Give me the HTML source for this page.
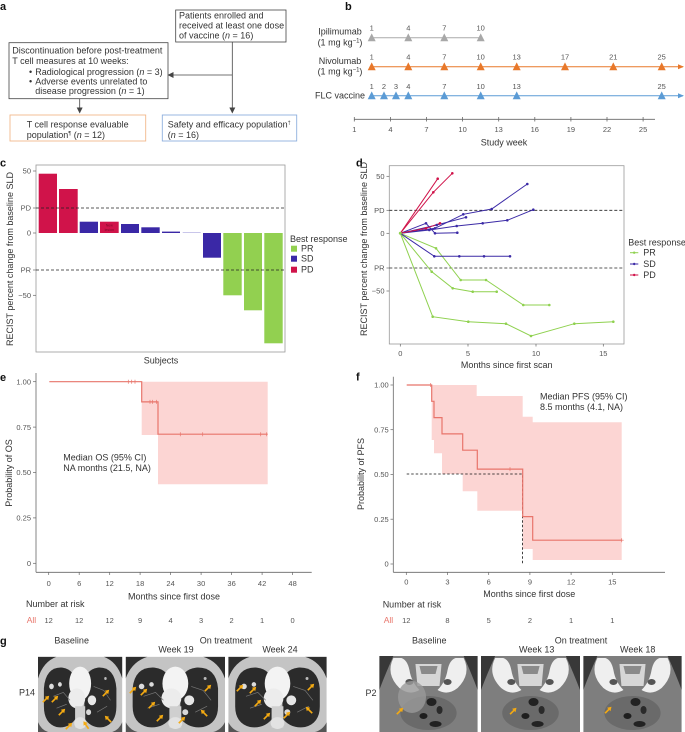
<!DOCTYPE html>
<html><head><meta charset="utf-8"><style>
html,body{margin:0;padding:0;background:#fff;}
svg{display:block;}
text{font-family:"Liberation Sans",sans-serif;fill:#333;}
.t{font-size:9px;}
.k{font-size:7.5px;fill:#555;}
.b{font-size:11px;font-weight:bold;fill:#111;}
</style></head><body>
<svg width="685" height="732" viewBox="0 0 685 732" xmlns="http://www.w3.org/2000/svg">
<defs>
<marker id="ah" markerWidth="6" markerHeight="6" refX="5" refY="3" orient="auto" markerUnits="userSpaceOnUse"><path d="M0,0 L6,3 L0,6 Z" fill="#444"/></marker>
<marker id="aho" markerWidth="6" markerHeight="6" refX="5" refY="3" orient="auto" markerUnits="userSpaceOnUse"><path d="M0,0.5 L6,3 L0,5.5 Z" fill="#e8782a"/></marker>
<marker id="ahb" markerWidth="6" markerHeight="6" refX="5" refY="3" orient="auto" markerUnits="userSpaceOnUse"><path d="M0,0.5 L6,3 L0,5.5 Z" fill="#5b9bd5"/></marker>
<g id="arr"><path d="M-3.2,3.2 L0.8,-0.8" stroke="#f4aa12" stroke-width="1.7"/><path d="M3.2,-3.2 L-1.2,-2.2 L2.2,1.2 Z" fill="#f4aa12"/></g>
<symbol id="chest" viewBox="0 0 100 76" preserveAspectRatio="none">
<rect width="100" height="76" fill="#c4c4c4"/>
<path d="M0,0 H22 Q6,5 0,22 Z" fill="#2e2e2e"/><path d="M100,0 H78 Q94,5 100,22 Z" fill="#2e2e2e"/>
<path d="M0,76 V66 Q4,74 12,76 Z" fill="#555"/><path d="M100,76 V66 Q96,74 88,76 Z" fill="#555"/>
<path d="M7,32 Q9,10 29,11 Q45,13 45,30 L45,62 Q37,73 22,71 Q7,67 7,50 Z" fill="#2b2b2b"/>
<path d="M93,32 Q91,10 71,11 Q55,13 55,30 L55,62 Q63,73 78,71 Q93,67 93,50 Z" fill="#2b2b2b"/>
<ellipse cx="50" cy="27" rx="13" ry="17" fill="#f3f3f3"/>
<ellipse cx="46" cy="42" rx="10" ry="10" fill="#ececec"/>
<rect x="44" y="50" width="12" height="22" fill="#cfcfcf"/>
<ellipse cx="50" cy="67" rx="7" ry="6" fill="#e2e2e2"/>
<circle cx="16" cy="30" r="2.8" fill="#dcdcdc"/><circle cx="26" cy="28" r="2.3" fill="#dcdcdc"/>
<circle cx="64" cy="44" r="5" fill="#e6e6e6"/><circle cx="60" cy="56" r="3" fill="#d8d8d8"/>
<circle cx="80" cy="22" r="1.5" fill="#bbb"/>
<path d="M18,40 L30,36 L38,44 M22,52 L34,48 M66,30 L78,34 L86,44 M70,56 L82,50" stroke="#777" stroke-width="0.7" fill="none"/>
</symbol>
<symbol id="pelv" viewBox="0 0 98 76" preserveAspectRatio="none">
<rect width="98" height="76" fill="#7e7e7e"/>
<path d="M0,0 H14 Q6,18 0,34 Z" fill="#383838"/><path d="M98,0 H84 Q92,18 98,34 Z" fill="#383838"/>
<path d="M14,2 Q6,18 20,32 Q30,40 40,34 Q32,26 30,14 Q28,4 22,2 Z" fill="#efefef"/>
<path d="M84,2 Q92,18 78,32 Q68,40 58,34 Q66,26 68,14 Q70,4 76,2 Z" fill="#efefef"/>
<path d="M36,8 H62 L60,30 H38 Z" fill="#d6d6d6"/>
<path d="M40,10 H58 L56,18 H42 Z" fill="#8a8a8a"/>
<ellipse cx="30" cy="26" rx="4" ry="3" fill="#555"/><ellipse cx="68" cy="26" rx="4" ry="3" fill="#555"/>
<ellipse cx="49" cy="57" rx="28" ry="17" fill="#6a6a6a"/>
<ellipse cx="52" cy="46" rx="5" ry="4" fill="#222"/><ellipse cx="44" cy="60" rx="4" ry="3" fill="#1e1e1e"/>
<ellipse cx="56" cy="68" rx="6" ry="3" fill="#222"/><ellipse cx="60" cy="54" rx="3" ry="4" fill="#2a2a2a"/>
</symbol>
</defs>

<!-- ===== Panel a ===== -->
<text class="b" x="0" y="10">a</text>
<rect x="175.7" y="10" width="110.3" height="32" fill="none" stroke="#444" stroke-width="0.8"/>
<text class="t" x="179" y="18.5">Patients enrolled and</text>
<text class="t" x="179" y="28.7">received at least one dose</text>
<text class="t" x="179" y="38.7">of vaccine (<tspan font-style="italic">n</tspan> = 16)</text>
<rect x="9" y="42.7" width="159" height="56" fill="none" stroke="#444" stroke-width="0.8"/>
<text class="t" x="12.3" y="53.3">Discontinuation before post-treatment</text>
<text class="t" x="12.3" y="64">T cell measures at 10 weeks:</text>
<text class="t" x="29" y="74.8">•</text><text class="t" x="35.3" y="74.8">Radiological progression (<tspan font-style="italic">n</tspan> = 3)</text>
<text class="t" x="29" y="84.3">•</text><text class="t" x="35.3" y="84.3">Adverse events unrelated to</text>
<text class="t" x="35.3" y="94">disease progression (<tspan font-style="italic">n</tspan> = 1)</text>
<line x1="232.3" y1="42" x2="232.3" y2="112.5" stroke="#444" stroke-width="0.8" marker-end="url(#ah)"/>
<line x1="232.3" y1="75" x2="168.5" y2="75" stroke="#444" stroke-width="0.8" marker-end="url(#ah)"/>
<line x1="79.7" y1="98.7" x2="79.7" y2="112.5" stroke="#444" stroke-width="0.8" marker-end="url(#ah)"/>
<rect x="10" y="115" width="135.7" height="26" fill="none" stroke="#f2b98c" stroke-width="0.9"/>
<text class="t" x="26.7" y="127.3">T cell response evaluable</text>
<text class="t" x="26.7" y="138">population<tspan font-size="5.5" dy="-3">¶</tspan><tspan dy="3"> (</tspan><tspan font-style="italic">n</tspan> = 12)</text>
<rect x="162.3" y="115" width="134.4" height="26" fill="none" stroke="#8fb0dd" stroke-width="0.9"/>
<text class="t" x="167.7" y="127.3">Safety and efficacy population<tspan font-size="5.5" dy="-3">†</tspan></text>
<text class="t" x="167.7" y="138">(<tspan font-style="italic">n</tspan> = 16)</text>

<!-- ===== Panel b ===== -->
<text class="b" x="345" y="10">b</text>
<text class="t" x="340" y="34.7" text-anchor="middle">Ipilimumab</text>
<text class="t" x="340" y="45.7" text-anchor="middle">(1 mg kg<tspan font-size="6" dy="-3">−1</tspan><tspan dy="3">)</tspan></text>
<text class="t" x="340" y="64" text-anchor="middle">Nivolumab</text>
<text class="t" x="340" y="74.7" text-anchor="middle">(1 mg kg<tspan font-size="6" dy="-3">−1</tspan><tspan dy="3">)</tspan></text>
<text class="t" x="340" y="98.7" text-anchor="middle">FLC vaccine</text>

<line x1="371.7" y1="37.7" x2="480.7" y2="37.7" stroke="#aaa" stroke-width="1"/>
<g fill="#a8a8a8">
<path d="M367.7,41.2 L375.7,41.2 L371.7,33.4 Z"/><path d="M404.3,41.2 L412.3,41.2 L408.3,33.4 Z"/>
<path d="M440.3,41.2 L448.3,41.2 L444.3,33.4 Z"/><path d="M476.7,41.2 L484.7,41.2 L480.7,33.4 Z"/>
</g>
<text x="371.7" y="30.5" class="k" text-anchor="middle">1</text><text x="408.3" y="30.5" class="k" text-anchor="middle">4</text>
<text x="444.3" y="30.5" class="k" text-anchor="middle">7</text><text x="480.7" y="30.5" class="k" text-anchor="middle">10</text>
<line x1="371.7" y1="66.7" x2="683" y2="66.7" stroke="#e8782a" stroke-width="1" marker-end="url(#aho)"/>
<g fill="#e8782a">
<path d="M367.7,70.2 L375.7,70.2 L371.7,62.4 Z"/><path d="M404.3,70.2 L412.3,70.2 L408.3,62.4 Z"/>
<path d="M440.3,70.2 L448.3,70.2 L444.3,62.4 Z"/><path d="M476.7,70.2 L484.7,70.2 L480.7,62.4 Z"/>
<path d="M512.7,70.2 L520.7,70.2 L516.7,62.4 Z"/><path d="M561,70.2 L569,70.2 L565,62.4 Z"/>
<path d="M609.3,70.2 L617.3,70.2 L613.3,62.4 Z"/><path d="M657.7,70.2 L665.7,70.2 L661.7,62.4 Z"/>
</g>
<text x="371.7" y="59.5" class="k" text-anchor="middle">1</text><text x="408.3" y="59.5" class="k" text-anchor="middle">4</text>
<text x="444.3" y="59.5" class="k" text-anchor="middle">7</text><text x="480.7" y="59.5" class="k" text-anchor="middle">10</text>
<text x="516.7" y="59.5" class="k" text-anchor="middle">13</text><text x="565" y="59.5" class="k" text-anchor="middle">17</text>
<text x="613.3" y="59.5" class="k" text-anchor="middle">21</text><text x="661.7" y="59.5" class="k" text-anchor="middle">25</text>
<line x1="371.7" y1="95.7" x2="683" y2="95.7" stroke="#5b9bd5" stroke-width="1" marker-end="url(#ahb)"/>
<g fill="#5b9bd5">
<path d="M367.7,99.2 L375.7,99.2 L371.7,91.4 Z"/><path d="M380,99.2 L388,99.2 L384,91.4 Z"/>
<path d="M392,99.2 L400,99.2 L396,91.4 Z"/><path d="M404.3,99.2 L412.3,99.2 L408.3,91.4 Z"/>
<path d="M440.3,99.2 L448.3,99.2 L444.3,91.4 Z"/><path d="M476.7,99.2 L484.7,99.2 L480.7,91.4 Z"/>
<path d="M512.7,99.2 L520.7,99.2 L516.7,91.4 Z"/><path d="M657.7,99.2 L665.7,99.2 L661.7,91.4 Z"/>
</g>
<text x="371.7" y="88.8" class="k" text-anchor="middle">1</text><text x="384" y="88.8" class="k" text-anchor="middle">2</text>
<text x="396" y="88.8" class="k" text-anchor="middle">3</text><text x="408.3" y="88.8" class="k" text-anchor="middle">4</text>
<text x="444.3" y="88.8" class="k" text-anchor="middle">7</text><text x="480.7" y="88.8" class="k" text-anchor="middle">10</text>
<text x="516.7" y="88.8" class="k" text-anchor="middle">13</text><text x="661.7" y="88.8" class="k" text-anchor="middle">25</text>
<line x1="354.3" y1="119.3" x2="655" y2="119.3" stroke="#666" stroke-width="0.8"/>
<g stroke="#666" stroke-width="0.8">
<line x1="354.3" y1="117" x2="354.3" y2="121.5"/><line x1="390.4" y1="117" x2="390.4" y2="121.5"/>
<line x1="426.5" y1="117" x2="426.5" y2="121.5"/><line x1="462.6" y1="117" x2="462.6" y2="121.5"/>
<line x1="498.7" y1="117" x2="498.7" y2="121.5"/><line x1="534.8" y1="117" x2="534.8" y2="121.5"/>
<line x1="570.9" y1="117" x2="570.9" y2="121.5"/><line x1="607" y1="117" x2="607" y2="121.5"/>
<line x1="643.1" y1="117" x2="643.1" y2="121.5"/>
</g>
<text x="354.3" y="132" class="k" text-anchor="middle">1</text><text x="390.4" y="132" class="k" text-anchor="middle">4</text>
<text x="426.5" y="132" class="k" text-anchor="middle">7</text><text x="462.6" y="132" class="k" text-anchor="middle">10</text>
<text x="498.7" y="132" class="k" text-anchor="middle">13</text><text x="534.8" y="132" class="k" text-anchor="middle">16</text>
<text x="570.9" y="132" class="k" text-anchor="middle">19</text><text x="607" y="132" class="k" text-anchor="middle">22</text>
<text x="643.1" y="132" class="k" text-anchor="middle">25</text>
<text class="t" x="504" y="145.5" text-anchor="middle">Study week</text>

<!-- ===== Panel c ===== -->
<text class="b" x="0" y="166.5">c</text>
<text class="t" transform="translate(13,259) rotate(-90)" text-anchor="middle" font-size="8.7">RECIST percent change from baseline SLD</text>
<g fill="#d0134a">
<rect x="38.7" y="173.7" width="18.3" height="59.3"/>
<rect x="59" y="189" width="18.7" height="44"/>
<rect x="100" y="221.7" width="18.7" height="11.3"/>
</g>
<g fill="#3a28a6">
<rect x="79.7" y="221.7" width="18.3" height="11.3"/>
<rect x="121" y="224" width="18" height="9"/>
<rect x="141.3" y="227.3" width="18.4" height="5.7"/>
<rect x="162" y="231.6" width="18" height="1.4"/>
<rect x="203" y="233" width="18" height="24.7"/>
</g>
<rect x="182.7" y="232" width="18" height="1" fill="#c9c6ea"/>
<g fill="#92d050">
<rect x="223.3" y="233" width="18.4" height="62.3"/>
<rect x="244" y="233" width="18" height="77.3"/>
<rect x="264.3" y="233" width="18.4" height="110.3"/>
</g>
<text x="109.3" y="226.5" font-size="3.6" text-anchor="middle" style="fill:#7a0a2a">New</text>
<text x="109.3" y="231" font-size="3.6" text-anchor="middle" style="fill:#7a0a2a">lesion</text>
<rect x="36" y="165" width="249" height="187" fill="none" stroke="#999" stroke-width="0.8"/>
<line x1="36" y1="208" x2="285" y2="208" stroke="#222" stroke-width="0.8" stroke-dasharray="3,2"/>
<line x1="36" y1="270" x2="285" y2="270" stroke="#222" stroke-width="0.8" stroke-dasharray="3,2"/>
<g stroke="#666" stroke-width="0.7">
<line x1="33" y1="171" x2="36" y2="171"/><line x1="33" y1="208" x2="36" y2="208"/><line x1="33" y1="233" x2="36" y2="233"/>
<line x1="33" y1="270" x2="36" y2="270"/><line x1="33" y1="295.3" x2="36" y2="295.3"/>
</g>
<text class="k" x="31" y="173.7" text-anchor="end">50</text>
<text class="k" x="31" y="210.7" text-anchor="end">PD</text>
<text class="k" x="31" y="235.7" text-anchor="end">0</text>
<text class="k" x="31" y="272.7" text-anchor="end">PR</text>
<text class="k" x="31" y="298" text-anchor="end">−50</text>
<text class="t" x="161" y="363.5" text-anchor="middle">Subjects</text>
<text class="t" x="290" y="242">Best response</text>
<rect x="291" y="245.7" width="6" height="6" fill="#92d050"/>
<rect x="291" y="255.7" width="6" height="6" fill="#3a28a6"/>
<rect x="291" y="266.7" width="6" height="6" fill="#d0134a"/>
<text class="t" x="301" y="251.7" font-size="8.5">PR</text>
<text class="t" x="301" y="261.7" font-size="8.5">SD</text>
<text class="t" x="301" y="272.7" font-size="8.5">PD</text>

<!-- ===== Panel d ===== -->
<text class="b" x="356" y="166.5">d</text>
<text class="t" transform="translate(367,249) rotate(-90)" text-anchor="middle" font-size="9.2">RECIST percent change from baseline SLD</text>
<rect x="389.3" y="165.7" width="234.7" height="178.3" fill="none" stroke="#999" stroke-width="0.8"/>
<line x1="389.3" y1="210.3" x2="624" y2="210.3" stroke="#222" stroke-width="0.8" stroke-dasharray="3,2"/>
<line x1="389.3" y1="268" x2="624" y2="268" stroke="#222" stroke-width="0.8" stroke-dasharray="3,2"/>
<g stroke="#666" stroke-width="0.7">
<line x1="386.5" y1="176.3" x2="389.3" y2="176.3"/><line x1="386.5" y1="210.3" x2="389.3" y2="210.3"/>
<line x1="386.5" y1="233.3" x2="389.3" y2="233.3"/><line x1="386.5" y1="268" x2="389.3" y2="268"/>
<line x1="386.5" y1="291" x2="389.3" y2="291"/>
<line x1="400.3" y1="344" x2="400.3" y2="346.5"/><line x1="468" y1="344" x2="468" y2="346.5"/>
<line x1="536" y1="344" x2="536" y2="346.5"/><line x1="603.3" y1="344" x2="603.3" y2="346.5"/>
</g>
<text class="k" x="384.5" y="179" text-anchor="end">50</text>
<text class="k" x="384.5" y="213" text-anchor="end">PD</text>
<text class="k" x="384.5" y="236" text-anchor="end">0</text>
<text class="k" x="384.5" y="270.7" text-anchor="end">PR</text>
<text class="k" x="384.5" y="293.7" text-anchor="end">−50</text>
<text class="k" x="400.3" y="356" text-anchor="middle">0</text>
<text class="k" x="468" y="356" text-anchor="middle">5</text>
<text class="k" x="536" y="356" text-anchor="middle">10</text>
<text class="k" x="603.3" y="356" text-anchor="middle">15</text>
<text class="t" x="506.7" y="368" text-anchor="middle">Months since first scan</text>
<g fill="none" stroke-width="1">
<g stroke="#8fd14f">
<polyline points="400.3,233.3 436,248.3 460.7,280 486,280 523.3,305 549.3,305"/>
<polyline points="400.3,233.3 431.7,271.7 452.7,288.3 472.7,291.7 496.7,291.7"/>
<polyline points="400.3,233.3 432.7,316.7 468.3,321.7 506,323.7 531,336 574.3,323.7 613.3,321.7"/>
</g>
<g stroke="#3b2aa6">
<polyline points="400.3,233.3 434.3,256.3 459.3,256.3 484,256.3 510,256.3"/>
<polyline points="400.3,233.3 435,228.3 463.3,214.3 491.7,209 527.3,184"/>
<polyline points="400.3,233.3 429.3,230 456.7,226 482.7,223.3 507.3,220.3 533.3,209.7"/>
<polyline points="400.3,233.3 426,223.3 435,233.3 457.3,232.7"/>
<polyline points="400.3,233.3 436.7,225 466,217.3"/>
</g>
<g stroke="#d0134a">
<polyline points="400.3,233.3 437.7,178.7"/>
<polyline points="400.3,233.3 433.3,192.3 452.3,173.3"/>
<polyline points="400.3,233.3 426,228.3 440,223.3"/>
</g>
</g>
<g fill="#8fd14f">
<circle cx="400.3" cy="233.3" r="1.5"/>
<circle cx="436" cy="248.3" r="1.3"/><circle cx="460.7" cy="280" r="1.3"/><circle cx="486" cy="280" r="1.3"/><circle cx="523.3" cy="305" r="1.3"/><circle cx="549.3" cy="305" r="1.3"/>
<circle cx="431.7" cy="271.7" r="1.3"/><circle cx="452.7" cy="288.3" r="1.3"/><circle cx="472.7" cy="291.7" r="1.3"/><circle cx="496.7" cy="291.7" r="1.3"/>
<circle cx="432.7" cy="316.7" r="1.3"/><circle cx="468.3" cy="321.7" r="1.3"/><circle cx="506" cy="323.7" r="1.3"/><circle cx="531" cy="336" r="1.3"/><circle cx="574.3" cy="323.7" r="1.3"/><circle cx="613.3" cy="321.7" r="1.3"/>
</g>
<g fill="#3b2aa6">
<circle cx="434.3" cy="256.3" r="1.3"/><circle cx="459.3" cy="256.3" r="1.3"/><circle cx="484" cy="256.3" r="1.3"/><circle cx="510" cy="256.3" r="1.3"/>
<circle cx="435" cy="228.3" r="1.3"/><circle cx="463.3" cy="214.3" r="1.3"/><circle cx="491.7" cy="209" r="1.3"/><circle cx="527.3" cy="184" r="1.3"/>
<circle cx="429.3" cy="230" r="1.3"/><circle cx="456.7" cy="226" r="1.3"/><circle cx="482.7" cy="223.3" r="1.3"/><circle cx="507.3" cy="220.3" r="1.3"/><circle cx="533.3" cy="209.7" r="1.3"/>
<circle cx="426" cy="223.3" r="1.3"/><circle cx="435" cy="233.3" r="1.3"/><circle cx="457.3" cy="232.7" r="1.3"/>
<circle cx="436.7" cy="225" r="1.3"/><circle cx="466" cy="217.3" r="1.3"/>
</g>
<g fill="#d0134a">
<circle cx="437.7" cy="178.7" r="1.3"/><circle cx="433.3" cy="192.3" r="1.3"/><circle cx="452.3" cy="173.3" r="1.3"/>
<circle cx="426" cy="228.3" r="1.3"/><circle cx="440" cy="223.3" r="1.3"/>
</g>
<text class="t" x="628.3" y="245.5">Best response</text>
<line x1="630" y1="252.7" x2="638.3" y2="252.7" stroke="#8fd14f" stroke-width="1"/><circle cx="634.2" cy="252.7" r="1.2" fill="#8fd14f"/>
<line x1="630" y1="264" x2="638.3" y2="264" stroke="#3b2aa6" stroke-width="1"/><circle cx="634.2" cy="264" r="1.2" fill="#3b2aa6"/>
<line x1="630" y1="275" x2="638.3" y2="275" stroke="#d0134a" stroke-width="1"/><circle cx="634.2" cy="275" r="1.2" fill="#d0134a"/>
<text class="t" x="643.3" y="255.7" font-size="8.5">PR</text>
<text class="t" x="643.3" y="267" font-size="8.5">SD</text>
<text class="t" x="643.3" y="278" font-size="8.5">PD</text>

<!-- ===== Panel e ===== -->
<text class="b" x="0" y="381">e</text>
<text class="t" transform="translate(12,473) rotate(-90)" text-anchor="middle" font-size="8.7">Probability of OS</text>
<path d="M141.7,381.7 H158 V435 H141.7 Z" fill="#fcd5d3"/>
<path d="M158,381.7 H267.7 V484.3 H158 Z" fill="#fcd5d3"/>
<path d="M49.3,381.7 H141.7 V401.9 H158 V434.2 H267.7" fill="none" stroke="#e8756b" stroke-width="1.2"/>
<g stroke="#e8756b" stroke-width="0.7">
<path d="M128.3,379.7 V383.7 M131.7,379.7 V383.7 M135,379.7 V383.7 M150,399.9 V403.9 M152.5,399.9 V403.9 M156.5,399.9 V403.9 M180.3,432.2 V436.2 M202.7,432.2 V436.2 M260.7,432.2 V436.2 M266.7,432.2 V436.2"/>
</g>
<line x1="36" y1="373" x2="36" y2="572.3" stroke="#666" stroke-width="0.8"/>
<line x1="36" y1="572.3" x2="311.7" y2="572.3" stroke="#666" stroke-width="0.8"/>
<g stroke="#666" stroke-width="0.7">
<line x1="33" y1="381.7" x2="36" y2="381.7"/><line x1="33" y1="427.1" x2="36" y2="427.1"/><line x1="33" y1="472.5" x2="36" y2="472.5"/>
<line x1="33" y1="517.9" x2="36" y2="517.9"/><line x1="33" y1="563.3" x2="36" y2="563.3"/>
<line x1="48.7" y1="572.3" x2="48.7" y2="575"/><line x1="79.2" y1="572.3" x2="79.2" y2="575"/><line x1="109.7" y1="572.3" x2="109.7" y2="575"/>
<line x1="140.1" y1="572.3" x2="140.1" y2="575"/><line x1="170.6" y1="572.3" x2="170.6" y2="575"/><line x1="201.1" y1="572.3" x2="201.1" y2="575"/>
<line x1="231.6" y1="572.3" x2="231.6" y2="575"/><line x1="262.1" y1="572.3" x2="262.1" y2="575"/><line x1="292.6" y1="572.3" x2="292.6" y2="575"/>
</g>
<text class="k" x="31" y="384.4" text-anchor="end">1.00</text>
<text class="k" x="31" y="429.8" text-anchor="end">0.75</text>
<text class="k" x="31" y="475.2" text-anchor="end">0.50</text>
<text class="k" x="31" y="520.6" text-anchor="end">0.25</text>
<text class="k" x="31" y="566" text-anchor="end">0</text>
<text class="k" x="48.7" y="586" text-anchor="middle">0</text><text class="k" x="79.2" y="586" text-anchor="middle">6</text>
<text class="k" x="109.7" y="586" text-anchor="middle">12</text><text class="k" x="140.1" y="586" text-anchor="middle">18</text>
<text class="k" x="170.6" y="586" text-anchor="middle">24</text><text class="k" x="201.1" y="586" text-anchor="middle">30</text>
<text class="k" x="231.6" y="586" text-anchor="middle">36</text><text class="k" x="262.1" y="586" text-anchor="middle">42</text>
<text class="k" x="292.6" y="586" text-anchor="middle">48</text>
<text class="t" x="174" y="599.7" text-anchor="middle">Months since first dose</text>
<text class="t" x="63.3" y="460.7">Median OS (95% CI)</text>
<text class="t" x="63.3" y="471">NA months (21.5, NA)</text>
<text class="t" x="26" y="607.2">Number at risk</text>
<text x="26.7" y="623" font-size="8.5" style="fill:#e8756b">All</text>
<text class="k" x="48.7" y="623" text-anchor="middle">12</text><text class="k" x="79.2" y="623" text-anchor="middle">12</text>
<text class="k" x="109.7" y="623" text-anchor="middle">12</text><text class="k" x="140.1" y="623" text-anchor="middle">9</text>
<text class="k" x="170.6" y="623" text-anchor="middle">4</text><text class="k" x="201.1" y="623" text-anchor="middle">3</text>
<text class="k" x="231.6" y="623" text-anchor="middle">2</text><text class="k" x="262.1" y="623" text-anchor="middle">1</text>
<text class="k" x="292.6" y="623" text-anchor="middle">0</text>

<!-- ===== Panel f ===== -->
<text class="b" x="356" y="380.5">f</text>
<text class="t" transform="translate(364,474) rotate(-90)" text-anchor="middle" font-size="8.7">Probability of PFS</text>
<path d="M431.7,385 H476.7 V396 H522.7 V416.7 H532.7 V422.3 H621.7 V560 H532.7 V549 H522.7 V510.7 H477.3 V491.3 H462.7 V474 H442 V453.3 H434 V440 H431.7 Z" fill="#fcd5d3"/>
<path d="M406.7,474 H522.5 V564" fill="none" stroke="#111" stroke-width="0.8" stroke-dasharray="2.5,2"/>
<path d="M406.7,385 H431.7 V401.3 H434 V417.6 H442 V433.9 H462.7 V450.2 H477.3 V469.1 H522.7 V516.6 H532.7 V540.2 H621.7" fill="none" stroke="#e8756b" stroke-width="1.2"/>
<path d="M430.7,383 V387 M510,467.1 V471.1 M621.7,538.2 V542.2 M619.7,540.2 H623.7" stroke="#e8756b" stroke-width="0.7"/>
<line x1="393.3" y1="376.7" x2="393.3" y2="572.3" stroke="#666" stroke-width="0.8"/>
<line x1="393.3" y1="572.3" x2="665" y2="572.3" stroke="#666" stroke-width="0.8"/>
<g stroke="#666" stroke-width="0.7">
<line x1="390.5" y1="385" x2="393.3" y2="385"/><line x1="390.5" y1="429.7" x2="393.3" y2="429.7"/><line x1="390.5" y1="474.5" x2="393.3" y2="474.5"/>
<line x1="390.5" y1="519.2" x2="393.3" y2="519.2"/><line x1="390.5" y1="564" x2="393.3" y2="564"/>
<line x1="406.3" y1="572.3" x2="406.3" y2="575"/><line x1="447.5" y1="572.3" x2="447.5" y2="575"/><line x1="488.7" y1="572.3" x2="488.7" y2="575"/>
<line x1="529.9" y1="572.3" x2="529.9" y2="575"/><line x1="571.1" y1="572.3" x2="571.1" y2="575"/><line x1="612.3" y1="572.3" x2="612.3" y2="575"/>
</g>
<text class="k" x="388.7" y="387.7" text-anchor="end">1.00</text>
<text class="k" x="388.7" y="432.4" text-anchor="end">0.75</text>
<text class="k" x="388.7" y="477.2" text-anchor="end">0.50</text>
<text class="k" x="388.7" y="521.9" text-anchor="end">0.25</text>
<text class="k" x="388.7" y="566.7" text-anchor="end">0</text>
<text class="k" x="406.3" y="584.5" text-anchor="middle">0</text><text class="k" x="447.5" y="584.5" text-anchor="middle">3</text>
<text class="k" x="488.7" y="584.5" text-anchor="middle">6</text><text class="k" x="529.9" y="584.5" text-anchor="middle">9</text>
<text class="k" x="571.1" y="584.5" text-anchor="middle">12</text><text class="k" x="612.3" y="584.5" text-anchor="middle">15</text>
<text class="t" x="529.3" y="597.2" text-anchor="middle">Months since first dose</text>
<text class="t" x="540" y="399.7">Median PFS (95% CI)</text>
<text class="t" x="540" y="410.2">8.5 months (4.1, NA)</text>
<text class="t" x="382.7" y="607.5">Number at risk</text>
<text x="383.7" y="623" font-size="8.5" style="fill:#e8756b">All</text>
<text class="k" x="406.3" y="623" text-anchor="middle">12</text><text class="k" x="447.5" y="623" text-anchor="middle">8</text>
<text class="k" x="488.7" y="623" text-anchor="middle">5</text><text class="k" x="529.9" y="623" text-anchor="middle">2</text>
<text class="k" x="571.1" y="623" text-anchor="middle">1</text><text class="k" x="612.3" y="623" text-anchor="middle">1</text>

<!-- ===== Panel g ===== -->
<text class="b" x="0" y="644.5">g</text>
<text class="t" x="71.7" y="643.7" text-anchor="middle">Baseline</text>
<text class="t" x="226" y="643.7" text-anchor="middle">On treatment</text>
<text class="t" x="176" y="652.5" text-anchor="middle">Week 19</text>
<text class="t" x="280" y="652.5" text-anchor="middle">Week 24</text>
<text class="t" x="19" y="695.7">P14</text>
<use href="#chest" x="38" y="656.7" width="84.3" height="75.3"/>
<use href="#chest" x="125.7" y="656.7" width="99.3" height="75.3"/>
<use href="#chest" x="228.3" y="656.7" width="98.4" height="75.3"/>
<use href="#arr" transform="translate(46,699)"/><use href="#arr" transform="translate(55,699)"/>
<use href="#arr" transform="translate(62,712)"/><use href="#arr" transform="translate(69,726)"/>
<use href="#arr" transform="translate(86,725) rotate(-80)"/><use href="#arr" transform="translate(106,693)"/>
<use href="#arr" transform="translate(108,719) rotate(-90)"/>
<use href="#arr" transform="translate(133,690)"/><use href="#arr" transform="translate(144,692)"/>
<use href="#arr" transform="translate(152,705)"/><use href="#arr" transform="translate(160,718)"/>
<use href="#arr" transform="translate(182,720)"/><use href="#arr" transform="translate(208,688)"/>
<use href="#arr" transform="translate(204,713) rotate(-90)"/>
<use href="#arr" transform="translate(240,688)"/><use href="#arr" transform="translate(253,690)"/>
<use href="#arr" transform="translate(258,703)"/><use href="#arr" transform="translate(267,716)"/>
<use href="#arr" transform="translate(287,715)"/><use href="#arr" transform="translate(311,687)"/>
<use href="#arr" transform="translate(309,710) rotate(-90)"/>

<text class="t" x="429.3" y="643.7" text-anchor="middle">Baseline</text>
<text class="t" x="581" y="643.7" text-anchor="middle">On treatment</text>
<text class="t" x="536.7" y="652.5" text-anchor="middle">Week 13</text>
<text class="t" x="637.7" y="652.5" text-anchor="middle">Week 18</text>
<text class="t" x="365.5" y="696.2">P2</text>
<use href="#pelv" x="379.3" y="656" width="98.4" height="76"/>
<use href="#pelv" x="481" y="656" width="99" height="76"/>
<use href="#pelv" x="583.3" y="656" width="98.4" height="76"/>
<ellipse cx="412" cy="697" rx="14" ry="16" fill="#9a9a9a" opacity="0.8"/>
<use href="#arr" transform="translate(400,711)"/>
<use href="#arr" transform="translate(513.3,711)"/>
<use href="#arr" transform="translate(608.3,710)"/>
</svg>
</body></html>
